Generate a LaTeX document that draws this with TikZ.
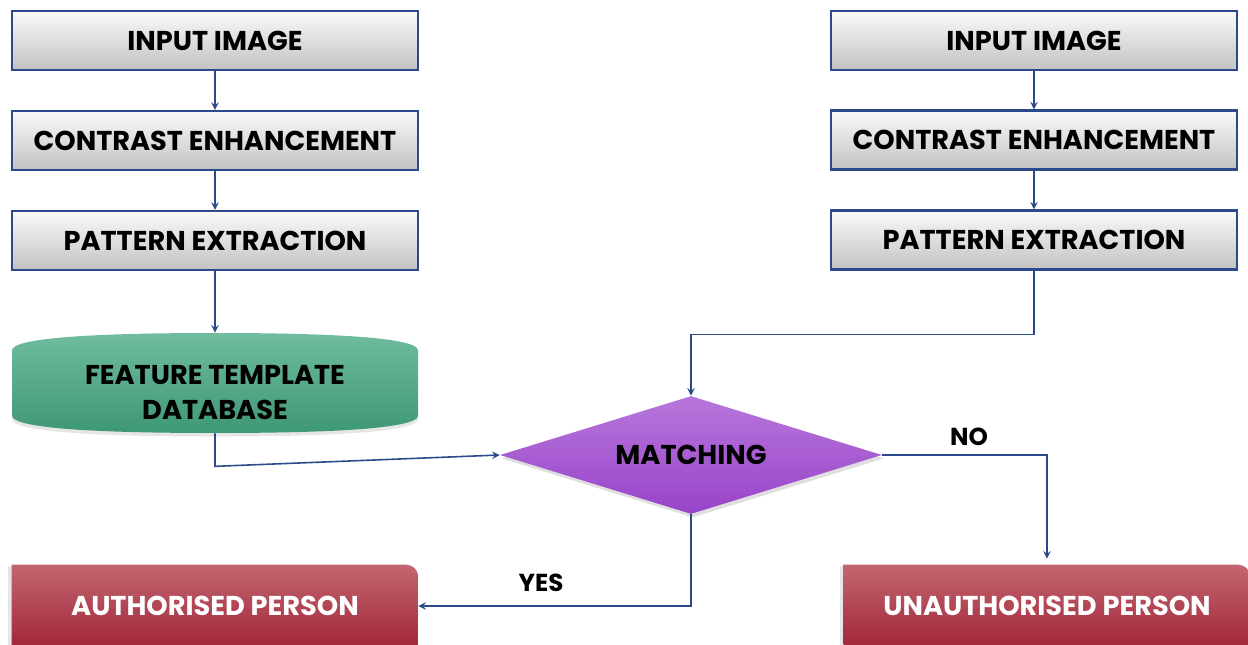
\documentclass[tikz,border=0pt]{standalone}
\usepackage{fontspec}
\setmainfont{Poppins}
\usetikzlibrary{shapes.geometric,shadows,backgrounds}
\definecolor{lineblue}{HTML}{2B4A8B}
\definecolor{boxtop}{HTML}{FAFAFA}
\definecolor{boxbot}{HTML}{C2C2C2}
\definecolor{dbtop}{HTML}{6FBC9E}
\definecolor{dbbot}{HTML}{3E9874}
\definecolor{mtop}{HTML}{B877DC}
\definecolor{mbot}{HTML}{9843C8}
\definecolor{rtop}{HTML}{C2666F}
\definecolor{rbot}{HTML}{A2263A}
\tikzset{>=stealth}
\tikzset{
  procbox/.style={draw=lineblue, line width=1.2pt, top color=boxtop, bottom color=boxbot,
    minimum width=8.12cm, minimum height=1.18cm, inner sep=0pt,
    font=\bfseries\fontsize{15.5}{18}\selectfont},
  flow/.style={draw=lineblue, line width=0.9pt},
  dbnode/.style={minimum width=8.12cm, minimum height=2cm, inner sep=0pt,
    font=\bfseries\fontsize{15.5}{20}\selectfont},
  matchnode/.style={diamond, aspect=3.24, minimum width=7.64cm, minimum height=2.36cm, inner sep=0pt,
    top color=mtop, bottom color=mbot, draw=none,
    drop shadow={shadow xshift=1pt, shadow yshift=-2pt, opacity=0.25},
    font=\bfseries\fontsize{15.5}{18}\selectfont},
  resultbox/.style={minimum width=8.12cm, minimum height=1.64cm, inner sep=0pt, text=white,
    font=\bfseries\fontsize{15.5}{18}\selectfont},
  reply/.style={font=\bfseries\fontsize{14}{16}\selectfont}
}

\begin{document}
\begin{tikzpicture}[x=0.02cm,y=-0.02cm]
\useasboundingbox (0,0) rectangle (1248,645);
\clip (0,0) rectangle (1248,645);

% enrolment side
\node[procbox] (in1) at (215,40.5) {INPUT IMAGE};
\node[procbox] (ce1) at (215,140.5) {CONTRAST ENHANCEMENT};
\node[procbox] (pe1) at (215,240.5) {PATTERN EXTRACTION};
\node[dbnode] (db) at (215,383) {\raisebox{-10.5pt}[0pt][0pt]{\begin{tabular}{@{}c@{}}FEATURE TEMPLATE\\DATABASE\end{tabular}}};

% verification side
\node[procbox] (in2) at (1034,40.5) {INPUT IMAGE};
\node[procbox] (ce2) at (1034,140) {CONTRAST ENHANCEMENT};
\node[procbox] (pe2) at (1034,240) {PATTERN EXTRACTION};

\node[matchnode] (match) at (691,455) {MATCHING};

\node[resultbox] (auth) at (215,606) {AUTHORISED PERSON};
\node[resultbox] (unauth) at (1047,606) {UNAUTHORISED PERSON};

\node[reply] (lblno) at (969,437) {NO};
\node[reply] (lblyes) at (541,583) {YES};

\begin{scope}[on background layer]
\shade[top color=dbtop, bottom color=dbbot,
  drop shadow={shadow xshift=0pt, shadow yshift=-2pt, opacity=0.2}]
  (12,350) .. controls (14,336) and (120,333) .. (215,333)
  .. controls (310,333) and (416,336) .. (418,350) -- (418,416)
  .. controls (416,430) and (310,433) .. (215,433)
  .. controls (120,433) and (14,430) .. (12,416) -- cycle;
\shade[top color=rtop, bottom color=rbot,
  drop shadow={shadow xshift=-2pt, shadow yshift=-1pt, opacity=0.2}]
  (auth.south west) -- (auth.north west) -- ([xshift=-7pt]auth.north east)
  arc[start angle=90, end angle=0, radius=7pt] -- (auth.south east) -- cycle;
\shade[top color=rtop, bottom color=rbot,
  drop shadow={shadow xshift=-2pt, shadow yshift=-1pt, opacity=0.2}]
  (unauth.south west) -- (unauth.north west) -- ([xshift=-7pt]unauth.north east)
  arc[start angle=90, end angle=0, radius=7pt] -- (unauth.south east) -- cycle;
\end{scope}

\draw[flow,->] (in1) -- (ce1);
\draw[flow,->] (ce1) -- (pe1);
\draw[flow,->] (pe1) -- (db);
\draw[flow,->] (in2) -- (ce2);
\draw[flow,->] (ce2) -- (pe2);

\draw[flow,->] (db.south) -- ++(0,33) -- (match.west);
\draw[flow,->] (pe2.south) -- ++(0,64) -| (match.north);
\draw[flow,->,shorten >=0.12cm] (match.east) -| (unauth.north);
\draw[flow,->] (match.south) |- (auth.east);

\end{tikzpicture}
\end{document}
